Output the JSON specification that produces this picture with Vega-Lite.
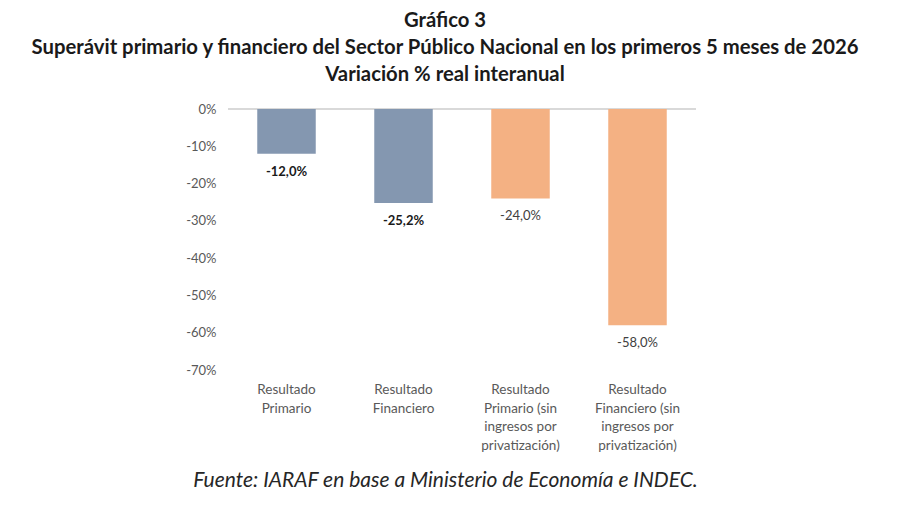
{
  "$schema": "https://vega.github.io/schema/vega-lite/v6.json",
  "autosize": {"type": "none"},
  "width": 468,
  "height": 261,
  "padding": {"left": 228, "top": 109, "right": 204, "bottom": 135},
  "background": "white",
  "config": {
    "view": {"stroke": null},
    "locale": {"number": {"decimal": ",", "thousands": ".", "grouping": [3], "currency": ["", " €"], "minus": "-"}},
    "font": "Lato",
    "axis": {"labelOverlap": false}
  },
  "title": {
    "text": ["Gráfico 3", "Superávit primario y financiero del Sector Público Nacional en los primeros 5 meses de 2026", "Variación % real interanual"],
    "font": "Lato",
    "fontSize": 20.3,
    "fontWeight": "bold",
    "color": "#1a1a1a",
    "lineHeight": 27,
    "anchor": "middle",
    "frame": "group",
    "dx": -17,
    "offset": 18
  },
  "data": {
    "values": [
      {"resultado": "Resultado\nPrimario", "grupo": "con", "variacion": -0.12},
      {"resultado": "Resultado\nFinanciero", "grupo": "con", "variacion": -0.252},
      {"resultado": "Resultado\nPrimario (sin\ningresos por\nprivatización)", "grupo": "sin", "variacion": -0.24},
      {"resultado": "Resultado\nFinanciero (sin\ningresos por\nprivatización)", "grupo": "sin", "variacion": -0.58}
    ]
  },
  "layer": [
    {
      "mark": {"type": "rule", "color": "#d9d9d9", "strokeWidth": 1.5},
      "encoding": {
        "y": {
          "datum": 0,
          "type": "quantitative",
          "scale": {"domain": [-0.7, 0], "nice": false},
          "axis": {
            "tickCount": 8,
            "format": ".0%",
            "labelOverlap": false,
            "labelSeparation": 0,
            "domain": false,
            "ticks": false,
            "tickSize": 0,
            "grid": false,
            "labelPadding": 12,
            "labelFont": "Lato",
            "labelFontSize": 13,
            "labelColor": "#595959",
            "title": null
          }
        }
      }
    },
    {
      "mark": {"type": "bar"},
      "encoding": {
        "x": {
          "field": "resultado",
          "type": "nominal",
          "sort": null,
          "scale": {"paddingInner": 0.5, "paddingOuter": 0.25},
          "axis": {
            "orient": "bottom",
            "domain": false,
            "ticks": false,
            "tickSize": 0,
            "labelAngle": 0,
            "labelPadding": 12.5,
            "labelExpr": "split(datum.label, '\\n')",
            "labelFont": "Lato",
            "labelFontSize": 13.5,
            "labelColor": "#595959",
            "labelLineHeight": 18.7,
            "labelBaseline": "top",
            "title": "Fuente: IARAF en base a Ministerio de Economía e INDEC.",
            "titleFont": "Lato",
            "titleFontSize": 21,
            "titleFontWeight": "normal",
            "titleFontStyle": "italic",
            "titleColor": "#262626",
            "titleX": 217,
            "titleY": 110,
            "titleAlign": "center",
            "titleBaseline": "middle"
          }
        },
        "y": {
          "field": "variacion",
          "type": "quantitative"
        },
        "color": {
          "field": "grupo",
          "type": "nominal",
          "scale": {"domain": ["con", "sin"], "range": ["#8497b0", "#f4b183"]},
          "legend": null
        }
      }
    },
    {
      "transform": [{"filter": "datum.grupo === 'con'"}],
      "mark": {"type": "text", "baseline": "top", "dy": 12, "fontSize": 13, "fontWeight": "bold", "color": "#1a1a1a", "font": "Lato"},
      "encoding": {
        "x": {"field": "resultado", "type": "nominal", "sort": null},
        "y": {"field": "variacion", "type": "quantitative"},
        "text": {"field": "variacion", "type": "quantitative", "format": ".1%"}
      }
    },
    {
      "transform": [{"filter": "datum.grupo === 'sin'"}],
      "mark": {"type": "text", "baseline": "top", "dy": 12, "fontSize": 13, "color": "#404040", "font": "Lato"},
      "encoding": {
        "x": {"field": "resultado", "type": "nominal", "sort": null},
        "y": {"field": "variacion", "type": "quantitative"},
        "text": {"field": "variacion", "type": "quantitative", "format": ".1%"}
      }
    }
  ]
}
